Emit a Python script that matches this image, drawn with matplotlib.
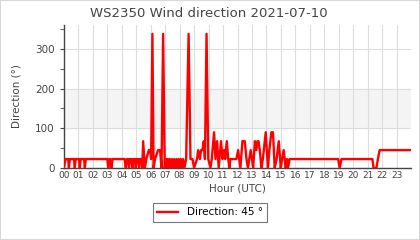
import matplotlib
matplotlib.use("Agg")
import matplotlib.pyplot as plt
from matplotlib.ticker import MultipleLocator, FixedLocator

# Wind direction samples (hour of day, degrees)
hours = [
    0.00, 0.12, 0.30, 0.35, 0.42, 0.70, 0.76, 0.82, 1.05, 1.10, 1.16, 1.40, 1.45, 1.52,
    3.00, 3.07, 3.14, 3.22, 3.29, 3.36, 4.20, 4.28, 4.36, 4.45, 4.50, 4.58, 4.68, 4.74,
    4.82, 4.92, 4.97, 5.04, 5.15, 5.20, 5.28, 5.38, 5.42, 5.48, 5.60, 5.70, 5.87, 5.96,
    6.03, 6.12, 6.20, 6.30, 6.51, 6.65, 6.75, 6.86, 6.97, 7.05, 7.12, 7.18, 7.25, 7.32,
    7.40, 7.47, 7.55, 7.62, 7.70, 7.78, 7.85, 7.93, 8.00, 8.08, 8.16, 8.24, 8.33, 8.45,
    8.62, 8.75, 8.89, 9.00, 9.20, 9.28, 9.40, 9.48, 9.58, 9.67, 9.75, 9.86, 9.98, 10.13,
    10.22, 10.38, 10.48, 10.59, 10.70, 10.86, 10.96, 11.07, 11.15, 11.26, 11.36, 11.44,
    11.50, 11.93, 12.04, 12.12, 12.20, 12.34, 12.50, 12.62, 12.72, 12.91, 13.00, 13.08,
    13.20, 13.30, 13.38, 13.45, 13.54, 13.65, 13.75, 13.95, 14.10, 14.20, 14.34, 14.45,
    14.57, 14.70, 14.85, 14.99, 15.08, 15.19, 15.33, 15.42, 15.49, 15.60, 18.95, 19.06,
    19.18, 21.32, 21.40, 21.60, 21.70, 21.82, 24.00,
]
directions = [
    0, 22.5, 22.5, 0, 22.5, 22.5, 0, 22.5, 22.5, 0, 22.5, 22.5, 0, 22.5,
    22.5, 0, 22.5, 22.5, 0, 22.5, 22.5, 0, 22.5, 22.5, 0, 22.5, 22.5, 0,
    22.5, 22.5, 0, 22.5, 22.5, 0, 22.5, 22.5, 0, 67.5, 0, 22.5, 45, 45,
    22.5, 337.5, 0, 22.5, 45, 45, 0, 337.5, 0, 22.5, 0, 22.5, 0, 22.5,
    0, 22.5, 0, 22.5, 0, 22.5, 0, 22.5, 0, 22.5, 0, 22.5, 0, 22.5,
    337.5, 22.5, 22.5, 0, 22.5, 45, 22.5, 45, 45, 67.5, 22.5, 337.5, 22.5, 0,
    22.5, 90, 22.5, 67.5, 0, 67.5, 22.5, 45, 22.5, 67.5, 22.5, 0,
    22.5, 22.5, 45, 22.5, 0, 67.5, 67.5, 22.5, 0, 45, 22.5, 0,
    67.5, 45, 67.5, 67.5, 45, 0, 22.5, 90, 0, 45, 90, 90,
    0, 22.5, 67.5, 0, 22.5, 45, 0, 22.5, 0, 22.5, 22.5, 0,
    22.5, 22.5, 0, 0, 22.5, 45, 45,
]
hour_labels = ["%02d" % h for h in range(24)]
current_dir = 45

fig = plt.figure(figsize=(4.2, 2.4), dpi=100)
fig.patch.set_facecolor("white")
fig.patches.append(plt.Rectangle((0, 0), 1, 1, transform=fig.transFigure,
                                 fill=False, edgecolor="#d8d8d8", linewidth=1.5))
ax = fig.add_axes([0.152, 0.30, 0.827, 0.596])

ax.axhspan(100, 200, color="#f4f4f4", zorder=0)
ax.plot(hours, directions, color="#ff0000", linewidth=1.7,
        label="Direction: %d °" % current_dir, zorder=3)

ax.set_xlim(0, 24)
ax.set_ylim(0, 360)
ax.set_xticks(range(24))
ax.set_xticklabels(hour_labels, fontsize=6.5, color="#444444")
ax.yaxis.set_major_locator(FixedLocator([0, 100, 200, 300]))
ax.yaxis.set_minor_locator(MultipleLocator(50))
ax.tick_params(axis="y", which="both", length=3, color="#444444", labelsize=7.5,
               labelcolor="#444444")
ax.tick_params(axis="x", length=0, pad=2)

ax.grid(True, which="major", color="#dddddd", linewidth=0.8)
ax.set_axisbelow(True)
for s in ("top", "right"):
    ax.spines[s].set_visible(False)
for s in ("left", "bottom"):
    ax.spines[s].set_color("#444444")
    ax.spines[s].set_linewidth(1.0)

ax.set_title("WS2350 Wind direction 2021-07-10", fontsize=9.5, color="#444444",
             x=0.416, pad=6)
ax.set_ylabel("Direction (°)", fontsize=7.5, color="#444444", labelpad=10)
ax.set_xlabel("Hour (UTC)", fontsize=7.5, color="#444444", labelpad=3)

leg = fig.legend(loc="center", bbox_to_anchor=(0.5, 0.115), fontsize=7.5,
                 frameon=True, fancybox=False, edgecolor="#555555",
                 handlelength=2.0, borderpad=0.4)
leg.get_frame().set_linewidth(0.8)

fig.savefig("out.png", dpi=100, facecolor="white")
